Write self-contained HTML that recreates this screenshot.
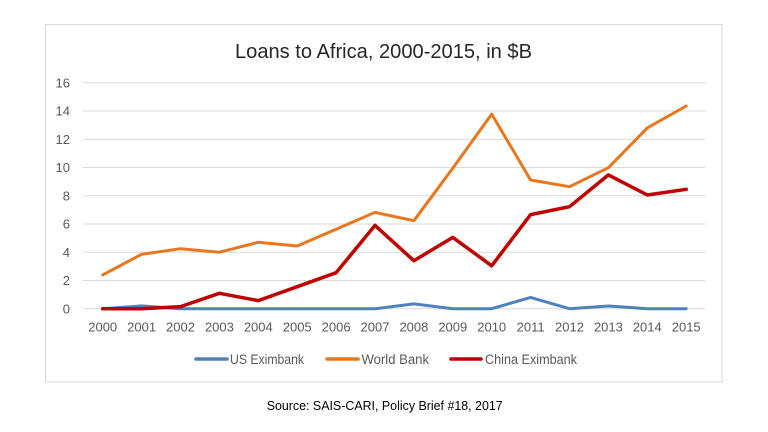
<!DOCTYPE html>
<html>
<head>
<meta charset="utf-8">
<style>
  html, body { margin: 0; padding: 0; background: #ffffff; }
  body { width: 768px; height: 432px; overflow: hidden; }
  svg { display: block; }
  text { font-family: "Liberation Sans", sans-serif; }
</style>
</head>
<body>
<svg width="768" height="432" viewBox="0 0 768 432" xmlns="http://www.w3.org/2000/svg">
  <rect x="0" y="0" width="768" height="432" fill="#ffffff"/>
  <!-- chart border -->
  <rect x="45.5" y="24.5" width="676.5" height="357.5" fill="#ffffff" stroke="#d9d9d9" stroke-width="1"/>

  <!-- title -->
  <text x="383.5" y="58" font-size="20" fill="#262626" text-anchor="middle" textLength="297" lengthAdjust="spacingAndGlyphs">Loans to Africa, 2000-2015, in $B</text>

  <!-- gridlines -->
  <g stroke="#d9d9d9" stroke-width="1">
    <line x1="83" y1="82.7" x2="705.5" y2="82.7"/>
    <line x1="83" y1="110.95" x2="705.5" y2="110.95"/>
    <line x1="83" y1="139.2" x2="705.5" y2="139.2"/>
    <line x1="83" y1="167.45" x2="705.5" y2="167.45"/>
    <line x1="83" y1="195.7" x2="705.5" y2="195.7"/>
    <line x1="83" y1="223.95" x2="705.5" y2="223.95"/>
    <line x1="83" y1="252.2" x2="705.5" y2="252.2"/>
    <line x1="83" y1="280.45" x2="705.5" y2="280.45"/>
    <line x1="83" y1="308.7" x2="705.5" y2="308.7"/>
  </g>

  <!-- y labels -->
  <g font-size="13" fill="#595959" text-anchor="end">
    <text x="70" y="87.4">16</text>
    <text x="70" y="115.65">14</text>
    <text x="70" y="143.9">12</text>
    <text x="70" y="172.15">10</text>
    <text x="70" y="200.4">8</text>
    <text x="70" y="228.65">6</text>
    <text x="70" y="256.9">4</text>
    <text x="70" y="285.15">2</text>
    <text x="70" y="313.4">0</text>
  </g>

  <!-- x labels -->
  <g font-size="13" fill="#595959" text-anchor="middle">
    <text x="102.7" y="331.7">2000</text>
    <text x="141.6" y="331.7">2001</text>
    <text x="180.5" y="331.7">2002</text>
    <text x="219.4" y="331.7">2003</text>
    <text x="258.3" y="331.7">2004</text>
    <text x="297.2" y="331.7">2005</text>
    <text x="336.1" y="331.7">2006</text>
    <text x="375.0" y="331.7">2007</text>
    <text x="413.9" y="331.7">2008</text>
    <text x="452.8" y="331.7">2009</text>
    <text x="491.7" y="331.7">2010</text>
    <text x="530.6" y="331.7">2011</text>
    <text x="569.5" y="331.7">2012</text>
    <text x="608.4" y="331.7">2013</text>
    <text x="647.3" y="331.7">2014</text>
    <text x="686.2" y="331.7">2015</text>
  </g>

  <!-- series -->
  <g fill="none" stroke-linejoin="round" stroke-linecap="round">
    <polyline stroke="#4f81bd" stroke-width="3"
      points="102.7,308.7 141.6,305.9 180.5,308.7 219.4,308.7 258.3,308.7 297.2,308.7 336.1,308.7 375.0,308.7 413.9,303.9 452.8,308.7 491.7,308.7 530.6,297.4 569.5,308.7 608.4,306.0 647.3,308.7 686.2,308.7"/>
    <polyline stroke="#e8771e" stroke-width="3"
      points="102.7,274.9 141.6,254.3 180.5,248.7 219.4,252.2 258.3,242.3 297.2,246.0 336.1,229.3 375.0,212.4 413.9,220.7 452.8,168.2 491.7,114.1 530.6,180.0 569.5,186.7 608.4,167.7 647.3,127.9 686.2,106.0"/>
    <polyline stroke="#c00000" stroke-width="3.5"
      points="102.7,308.7 141.6,308.7 180.5,306.6 219.4,293.3 258.3,300.6 297.2,286.7 336.1,272.7 375.0,225.4 413.9,260.7 452.8,237.4 491.7,265.8 530.6,214.6 569.5,206.7 608.4,174.9 647.3,195.0 686.2,189.3"/>
  </g>

  <!-- legend -->
  <g stroke-width="3.5" stroke-linecap="round">
    <line x1="196" y1="359" x2="227" y2="359" stroke="#4f81bd"/>
    <line x1="327" y1="359" x2="358" y2="359" stroke="#e8771e"/>
    <line x1="451" y1="359" x2="481" y2="359" stroke="#c00000"/>
  </g>
  <g font-size="13.5" fill="#595959">
    <text x="230" y="364" textLength="74" lengthAdjust="spacingAndGlyphs">US Eximbank</text>
    <text x="361.5" y="364" textLength="67.5" lengthAdjust="spacingAndGlyphs">World Bank</text>
    <text x="485" y="364" textLength="92" lengthAdjust="spacingAndGlyphs">China Eximbank</text>
  </g>

  <!-- source -->
  <text x="266.7" y="410" font-size="13" fill="#000000" textLength="236" lengthAdjust="spacingAndGlyphs">Source: SAIS-CARI, Policy Brief #18, 2017</text>
</svg>
</body>
</html>
